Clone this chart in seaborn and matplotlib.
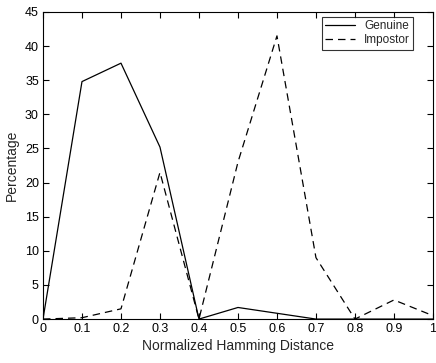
import matplotlib
matplotlib.use("Agg")
import matplotlib.pyplot as plt
import seaborn as sns
import pandas as pd

distance = [0.0, 0.1, 0.2, 0.3, 0.4, 0.5, 0.6, 0.7, 0.8, 0.9, 1.0]
genuine = [0.0, 34.8, 37.5, 25.2, 0.0, 1.7, 0.85, 0.0, 0.0, 0.0, 0.0]
impostor = [0.0, 0.2, 1.5, 21.5, 0.0, 23.0, 41.5, 9.0, 0.0, 2.8, 0.5]
series_names = ["Genuine", "Impostor"]
x_ticks = [0, 0.1, 0.2, 0.3, 0.4, 0.5, 0.6, 0.7, 0.8, 0.9, 1]
x_tick_labels = ["0", "0.1", "0.2", "0.3", "0.4", "0.5", "0.6", "0.7", "0.8", "0.9", "1"]
y_ticks = [0, 5, 10, 15, 20, 25, 30, 35, 40, 45]

df = pd.DataFrame({
    "Normalized Hamming Distance": distance * 2,
    "Percentage": genuine + impostor,
    "Series": [series_names[0]] * len(distance) + [series_names[1]] * len(distance),
})

sns.set_theme(style="ticks")
plt.rcParams["font.family"] = ["Liberation Sans", "DejaVu Sans"]

fig = plt.figure(figsize=(4.36, 3.63), dpi=100)
ax = fig.add_axes([0.0986, 0.121, 0.8944, 0.846])

sns.lineplot(
    data=df, x="Normalized Hamming Distance", y="Percentage",
    style="Series", style_order=series_names,
    dashes={"Genuine": "", "Impostor": (6, 4)},
    color="black", linewidth=0.9, ax=ax, legend=True,
)

ax.set_xlim(0, 1)
ax.set_ylim(0, 45)
ax.set_xticks(x_ticks)
ax.set_xticklabels(x_tick_labels)
ax.set_yticks(y_ticks)
ax.tick_params(direction="in", length=4, width=0.8, top=True, right=True,
               labelsize=9, colors="black", pad=3)
for s in ax.spines.values():
    s.set_visible(True)
    s.set_linewidth(0.8)
    s.set_color("black")
ax.set_xlabel("Normalized Hamming Distance", fontsize=10, labelpad=3)
ax.set_ylabel("Percentage", fontsize=10, labelpad=4)

leg = ax.legend(loc="upper right", bbox_to_anchor=(0.95, 0.985), fontsize=8.5,
                frameon=True, fancybox=False, edgecolor="black", borderaxespad=0,
                handlelength=2.5, borderpad=0.3, labelspacing=0.2)
leg.get_frame().set_linewidth(0.8)

fig.savefig("out.png", dpi=100, facecolor="white")
